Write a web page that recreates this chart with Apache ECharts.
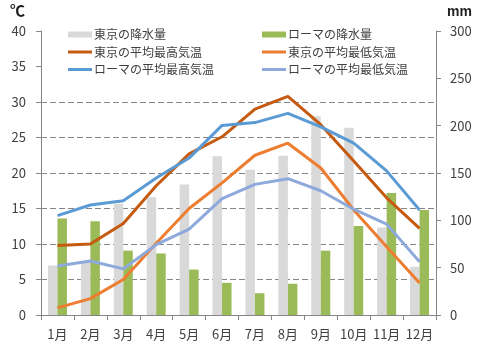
<!DOCTYPE html>
<html>
<head>
<meta charset="utf-8">
<script src="https://cdn.jsdelivr.net/npm/echarts@6/dist/echarts.min.js"></script>
<style>html,body{margin:0;padding:0;background:#fff}#c{width:484px;height:355px}</style>
</head>
<body>
<div id="c"></div>
<script>
var months = ['1月','2月','3月','4月','5月','6月','7月','8月','9月','10月','11月','12月'];
var tokyoRain = [52.3, 56.1, 117.5, 124.5, 137.8, 167.7, 153.5, 168.2, 209.9, 197.8, 92.5, 51.0];
var romeRain = [102, 99, 68, 65, 48, 34, 23, 33, 68, 94, 129, 111];
var tokyoMax = [9.8, 10.0, 12.9, 18.2, 22.7, 25.1, 29.0, 30.8, 26.8, 21.7, 16.5, 12.2];
var tokyoMin = [1.0, 2.3, 5.0, 10.1, 15.0, 18.6, 22.5, 24.2, 20.7, 14.8, 9.6, 4.5];
var romeMax = [14.0, 15.5, 16.1, 19.3, 22.1, 26.7, 27.1, 28.4, 26.5, 24.2, 20.3, 14.8];
var romeMin = [6.9, 7.6, 6.5, 9.9, 12.1, 16.4, 18.4, 19.2, 17.5, 14.9, 12.8, 7.5];
var names = ['東京の降水量','ローマの降水量','東京の平均最高気温','東京の平均最低気温','ローマの平均最高気温','ローマの平均最低気温'];
var tempTicks = [0, 40, 5];
var rainTicks = [0, 300, 50];

var txt = '#404040';
var axisCol = '#868686';
var font = '"Noto Sans CJK JP", "Noto Sans", sans-serif';
var chart = echarts.init(document.getElementById('c'));
function legend(left, top, h, items) {
  return {
    orient: 'vertical', left: left, top: top, padding: 0,
    itemWidth: 24, itemHeight: h, itemGap: 3.5, icon: 'rect',
    textStyle: {color: txt, fontSize: 12, fontFamily: font, lineHeight: 14, padding: [0,0,0,-3]},
    selectedMode: false, data: items
  };
}
function lineSeries(name, data, color) {
  return {name: name, type: 'line', yAxisIndex: 0, data: data, symbol: 'none',
    lineStyle: {color: color, width: 3}, itemStyle: {color: color}, z: 3, animation: false};
}
chart.setOption({
  animation: false,
  textStyle: {fontFamily: font},
  grid: {left: 41, right: 48, top: 31, bottom: 40},
  legend: [
    legend(68, 27.5, 6, [names[0]]),
    legend(262, 27.5, 6, [names[1]]),
    legend(68, 45, 3, [names[2], names[4]]),
    legend(262, 45, 3, [names[3], names[5]])
  ],
  graphic: [
    {type: 'text', left: 10, top: 3, style: {text: '℃', font: 'bold 15px "Noto Sans CJK JP"', fill: '#222'}},
    {type: 'text', left: 447, top: 5, style: {text: 'mm', font: 'bold 14px "Liberation Sans"', fill: '#222'}}
  ],
  xAxis: {
    type: 'category', data: months,
    axisLine: {lineStyle: {color: axisCol}},
    axisTick: {show: true, length: 5, lineStyle: {color: axisCol}},
    axisLabel: {color: txt, fontSize: 13, margin: 13, interval: 0}
  },
  yAxis: [
    {type: 'value', min: tempTicks[0], max: tempTicks[1], interval: tempTicks[2], position: 'left',
     axisLine: {show: true, lineStyle: {color: axisCol}},
     axisTick: {show: true, length: 5, lineStyle: {color: axisCol}},
     axisLabel: {color: txt, fontSize: 13, margin: 15},
     splitLine: {show: true, lineStyle: {type: [6, 3], width: 1,
       color: ['rgba(0,0,0,0)', axisCol, axisCol, axisCol, axisCol, axisCol, axisCol, 'rgba(0,0,0,0)', 'rgba(0,0,0,0)']}}},
    {type: 'value', min: rainTicks[0], max: rainTicks[1], interval: rainTicks[2], position: 'right',
     axisLine: {show: true, lineStyle: {color: axisCol}},
     axisTick: {show: true, length: 5, lineStyle: {color: axisCol}},
     axisLabel: {color: txt, fontSize: 13, margin: 14},
     splitLine: {show: false}}
  ],
  series: [
    {name: names[0], type: 'bar', yAxisIndex: 1, data: tokyoRain, barWidth: 9.5, barGap: '0%',
     itemStyle: {color: '#D9D9D9'}, z: 2},
    {name: names[1], type: 'bar', yAxisIndex: 1, data: romeRain, barWidth: 9.5, barGap: '0%',
     itemStyle: {color: '#9BBB59'}, z: 2},
    lineSeries(names[2], tokyoMax, '#C55A11'),
    lineSeries(names[3], tokyoMin, '#ED7D31'),
    lineSeries(names[4], romeMax, '#5B9BD5'),
    lineSeries(names[5], romeMin, '#8EA9DB')
  ]
});
</script>
</body>
</html>
